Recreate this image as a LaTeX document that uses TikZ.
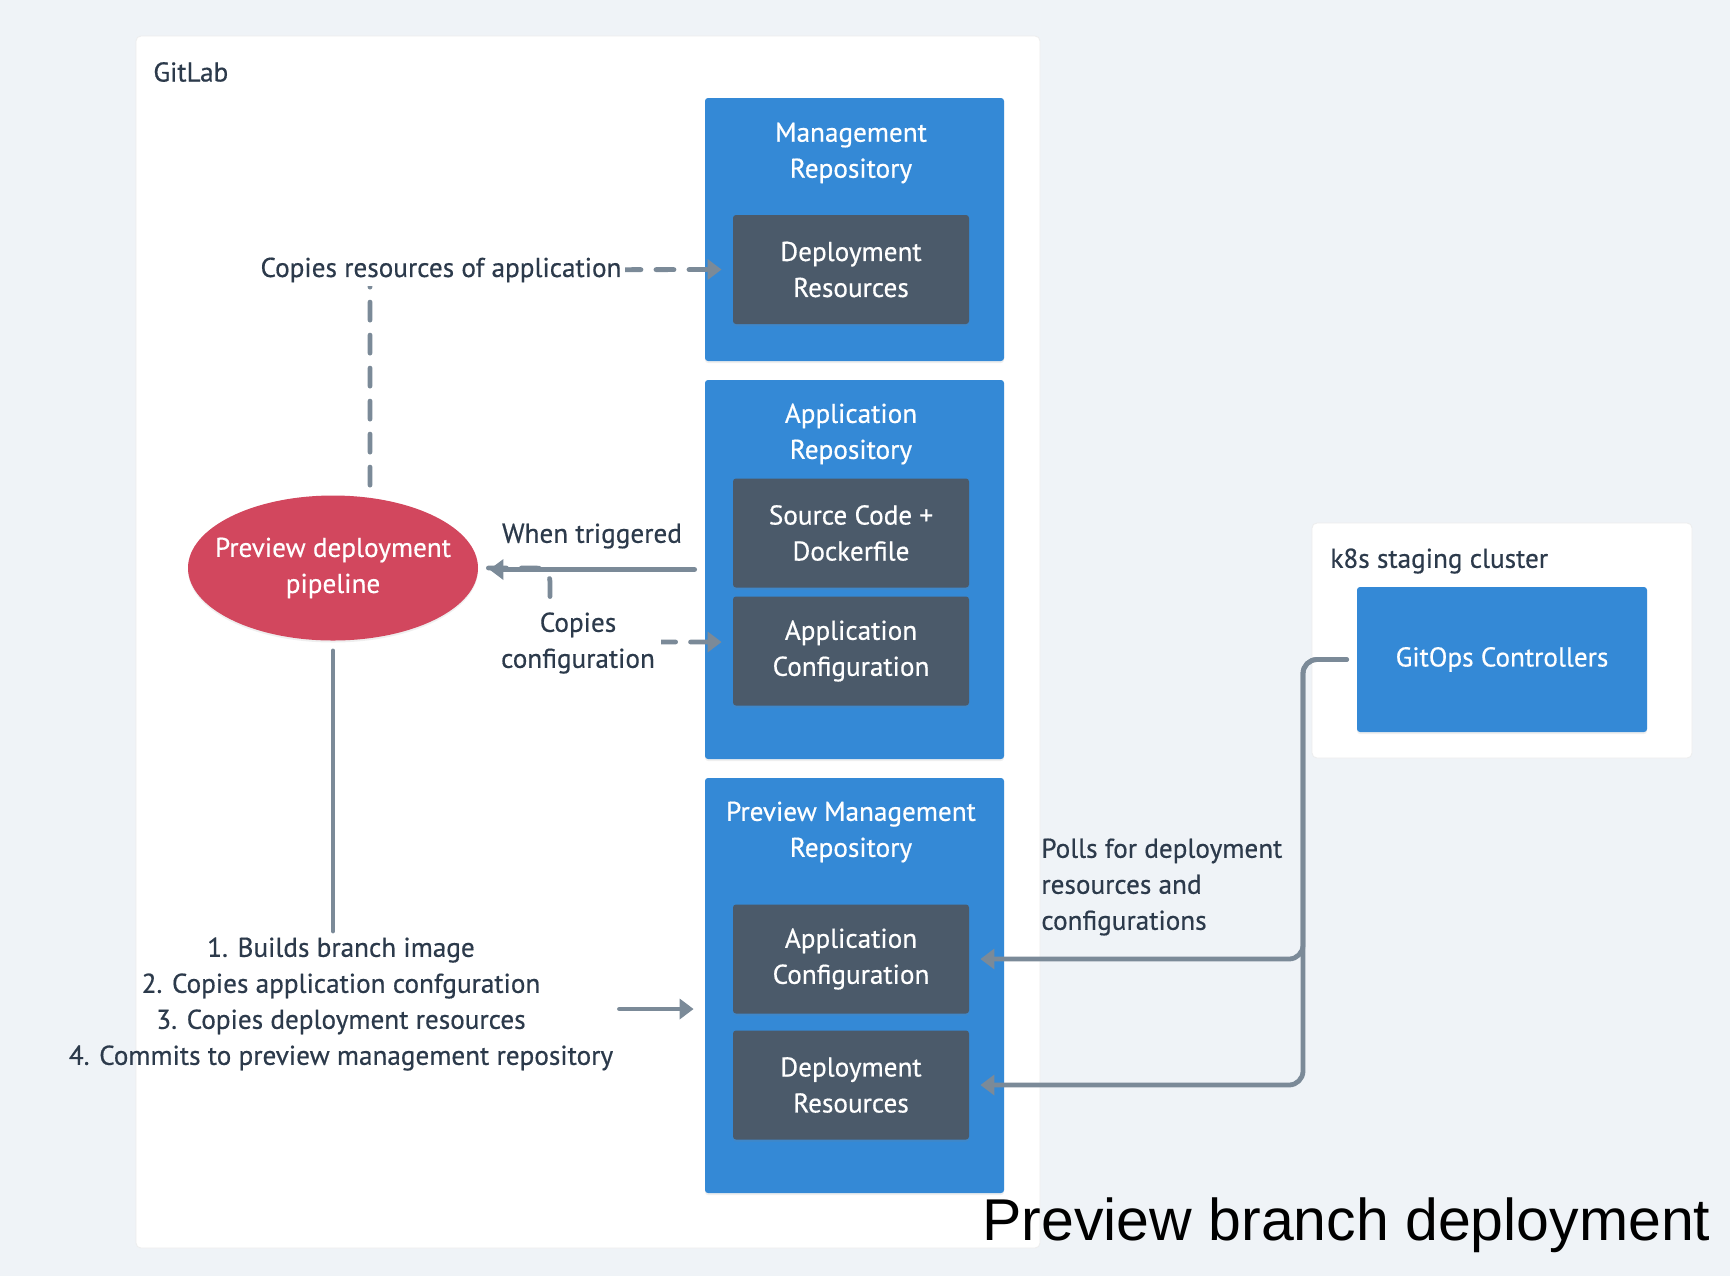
\documentclass[tikz,border=0pt]{standalone}
\usepackage{fontspec}
\setmainfont{PT Sans}[FakeBold=0.5]
\newfontfamily\titlefont{Liberation Sans}
\usetikzlibrary{arrows.meta,shapes.geometric,shadows}
\definecolor{bgcol}{HTML}{EFF3F7}
\definecolor{repoblue}{HTML}{3489D6}
\definecolor{slate}{HTML}{4B5A6A}
\definecolor{pipered}{HTML}{D2475E}
\definecolor{linegray}{HTML}{7B8A98}
\definecolor{ink}{HTML}{2C3A4B}
\begin{document}
\begin{tikzpicture}[x=0.5pt,y=-0.5pt,
    every node/.style={font=\fontsize{13.6pt}{18pt}\selectfont,text=ink,align=center},
    panel/.style={fill=white,draw=black!7,line width=0.4pt,rounded corners=2.5pt},
    repo/.style={fill=repoblue,rounded corners=1.5pt,minimum width=149.5pt,drop shadow={shadow xshift=0pt,shadow yshift=-1pt,opacity=.12}},
    item/.style={fill=slate,text=white,rounded corners=1.5pt,minimum width=118pt,minimum height=54.5pt,drop shadow={shadow xshift=0pt,shadow yshift=-1pt,opacity=.15}},
    head/.style={text=white},
    tag/.style={inner sep=0pt},
    conn/.style={draw=linegray,line width=2.4pt,line cap=round,rounded corners=7pt,shorten <=5pt,shorten >=5.5pt},
    dashconn/.style={conn,dash pattern=on 9pt off 7.5pt},
    tip/.style={-{Triangle[length=7pt,width=10pt]}}
  ]
  \fill[bgcol] (0,0) rectangle (1730,1276);
  \useasboundingbox (0,0) rectangle (1730,1276);
  %% GitLab
  \node[panel,minimum width=452pt,minimum height=606pt] (gitlab) at (588,642) {};
  \node[tag,anchor=west] (gitlablbl) at (153,72) {GitLab};
  %% k8s cluster
  \node[panel,minimum width=190pt,minimum height=117.5pt] (k8s) at (1502,640.5) {};
  \node[tag,anchor=west] (k8slbl) at (1330,561) {k8s staging cluster};
  \node[repo,minimum width=145pt,minimum height=72.5pt,text=white] (gitops) at (1502,659.5) {GitOps Controllers};
  %% management repository
  \node[repo,minimum height=131.5pt] (mgmt) at (854.5,229.5) {};
  \node[head] (mgmthead) at (851,153) {Management\\Repository};
  \node[item] (mgmtdeploy) at (851,269.5) {Deployment\\Resources};
  %% application repository
  \node[repo,minimum height=189.5pt] (apprepo) at (854.5,569.5) {};
  \node[head] (apphead) at (851,434) {Application\\Repository};
  \node[item] (src) at (851,533) {Source Code +\\Dockerfile};
  \node[item] (appcfg) at (851,651) {Application\\Configuration};
  %% preview management repository
  \node[repo,minimum height=207.5pt] (pmr) at (854.5,985.5) {};
  \node[head] (pmrhead) at (851,832) {Preview Management\\Repository};
  \node[item] (pmrcfg) at (851,959) {Application\\Configuration};
  \node[item] (pmrdeploy) at (851,1085) {Deployment\\Resources};
  %% pipeline
  \node[ellipse,fill=pipered,minimum width=145pt,minimum height=72.5pt,inner sep=0pt,drop shadow={shadow xshift=0pt,shadow yshift=-1pt,opacity=.12}] (pipeline) at (333,568) {};
  \node[text=white] (pipelinetxt) at (pipeline) {Preview deployment\\pipeline};
  %% connectors
  \coordinate (resbend) at (370,270);
  \coordinate (cfgbend) at (550,568);
  \coordinate (bus) at (1303,0);
  \draw[dashconn,tip] (pipeline.north -| resbend) -- (resbend) -- (mgmtdeploy.west);
  \draw[dashconn,tip] (pipeline.east) -- (cfgbend) |- ([yshift=4.5pt]appcfg.west);
  \draw[conn,tip] (apprepo.west) -- (apprepo.west -| pipeline.east);
  \node[fill=white,inner sep=2pt] (copyres) at (441,270) {Copies resources of application};
  \node[fill=white,inner sep=3pt] (copycfg) at (578,643) {Copies\\configuration};
  \node (trig) at (592,536) {When triggered};
  \node[inner sep=3pt] (steps) at (341,1004) {1. Builds branch image\\2. Copies application confguration\\3. Copies deployment resources\\4. Commits to preview management repository};
  \draw[conn,shorten >=0pt] (pipeline.south) -- (pipeline.south |- steps.north);
  \draw[conn,tip,shorten <=0pt] ([yshift=-2.5pt]steps.east) -- ([yshift=-2.5pt]steps.east -| pmr.west);
  \draw[conn,tip] (gitops.west) -| (bus |- pmrcfg.east) -- (pmrcfg.east);
  \draw[conn,tip] (gitops.west) -| (bus |- pmrdeploy.east) -- (pmrdeploy.east);
  \node[anchor=west,align=left,inner sep=0pt] (polls) at (1041,887) {Polls for deployment\\resources and\\configurations};
  %% title
  \node[anchor=base west,inner sep=0pt,text=black,font=\titlefont\fontsize{29.5pt}{34pt}\selectfont] (title) at (982,1240) {Preview branch deployment};
\end{tikzpicture}
\end{document}
